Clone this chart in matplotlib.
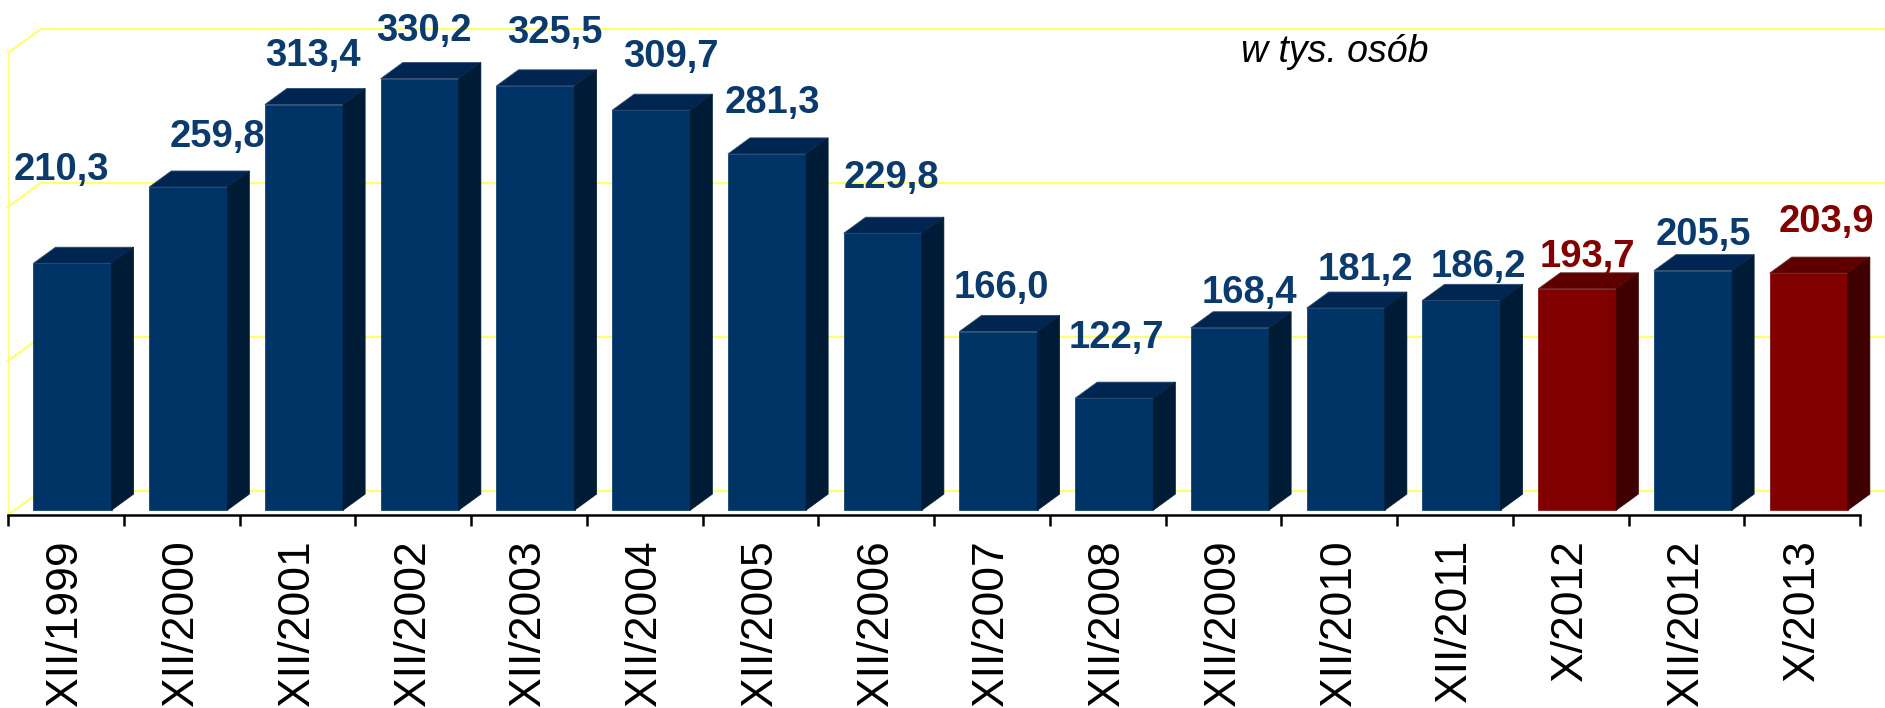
import matplotlib
matplotlib.use("Agg")
import matplotlib.pyplot as plt
import numpy as np
from matplotlib.patches import Polygon

# data
categories = ["XII/1999", "XII/2000", "XII/2001", "XII/2002", "XII/2003", "XII/2004",
              "XII/2005", "XII/2006", "XII/2007", "XII/2008", "XII/2009", "XII/2010",
              "XII/2011", "X/2012", "XII/2012", "X/2013"]
values = [210.3, 259.8, 313.4, 330.2, 325.5, 309.7, 281.3, 229.8,
          166.0, 122.7, 168.4, 181.2, 186.2, 193.7, 205.5, 203.9]
highlight = [False] * 13 + [True, False, True]   # red bars (X months)
unit_label = "w tys. osób"

# axis settings
Y_MIN, Y_MAX, Y_STEP = 50, 350, 100

# look of the fake 3d
DEPTH_X, DEPTH_Y = 0.285, 15.6      # wall depth in (category, value) units
F0, F1 = 0.2, 0.87                  # bar front / back as a fraction of the depth
BAR_W = 0.675
blue = ("#003366", "#002550", "#001b35")
red = ("#800000", "#5e0000", "#3e0000")
label_blue = "#0b3a6c"
label_red = "#830000"
grid_col = "#ffff70"

# label nudges in pixels (dx from bar centre, dy above bar top)
nudge = [(-11, 83), (29, 40), (9, 39), (4, 38), (19, 43), (20, 43), (5, 41), (9, 45),
         (3, 34), (2, 50), (19, 25), (20, 28), (17, 23), (10, 22), (10, 26), (18, 41)]

plt.rcParams['font.family'] = ['Liberation Sans', 'DejaVu Sans']

W, H = 1885, 708
fig = plt.figure(figsize=(W / 100, H / 100), dpi=100)
ax_left, ax_right, ax_bottom = 8, 1860, 515
ax = fig.add_axes([ax_left / W, (H - ax_bottom) / H, (ax_right - ax_left) / W, ax_bottom / H])
n = len(values)
px_per_unit = 1.54
ax.set_xlim(0, n)
ax.set_ylim(Y_MIN, Y_MIN + ax_bottom / px_per_unit)

# walls / gridlines
x_edge = (W - ax_left) / ((ax_right - ax_left) / n)
for g in np.arange(Y_MIN, Y_MAX + 1, Y_STEP):
    ax.plot([0, DEPTH_X], [g, g + DEPTH_Y], color=grid_col, lw=1.6, zorder=1, clip_on=False)
    ax.plot([DEPTH_X, x_edge], [g + DEPTH_Y, g + DEPTH_Y], color=grid_col, lw=1.6,
            zorder=1, clip_on=False)
ax.plot([0, 0], [Y_MIN, Y_MAX], color=grid_col, lw=1.6, zorder=1)

# bars
xs = np.arange(n) + 0.5 + F0 * DEPTH_X
base = Y_MIN + F0 * DEPTH_Y
vals = np.array(values)
front_cols = [red[0] if h else blue[0] for h in highlight]
ax.bar(xs, vals - Y_MIN, bottom=base, width=BAR_W, color=front_cols,
       edgecolor=front_cols, linewidth=0.5, zorder=3)
dx, dy = (F1 - F0) * DEPTH_X, (F1 - F0) * DEPTH_Y
for x, v, h in zip(xs, vals, highlight):
    cols = red if h else blue
    top = v + F0 * DEPTH_Y
    l, r = x - BAR_W / 2, x + BAR_W / 2
    ax.add_patch(Polygon([(l, top), (r, top), (r + dx, top + dy), (l + dx, top + dy)],
                         closed=True, facecolor=cols[1], edgecolor="#2c4a6e" if not h else "#6e2c2c",
                         lw=0.6, zorder=3, clip_on=False))
    ax.add_patch(Polygon([(r, base), (r + dx, base + dy), (r + dx, top + dy), (r, top)],
                         closed=True, facecolor=cols[2], edgecolor=cols[2], lw=0.5,
                         zorder=3, clip_on=False))

# value labels
for x, v, h, (ndx, ndy) in zip(xs, vals, highlight, nudge):
    txt = f"{v:.1f}".replace(".", ",")
    ax.annotate(txt, xy=(x, v + F0 * DEPTH_Y), xytext=(ndx, ndy), textcoords="offset pixels",
                ha="center", va="baseline", fontsize=27.5, fontweight="bold",
                color=label_red if h else label_blue, zorder=5, annotation_clip=False)

# axis
for s in ["left", "right", "top"]:
    ax.spines[s].set_visible(False)
ax.spines["bottom"].set_linewidth(1.8)
ax.spines["bottom"].set_zorder(4)
ax.set_yticks([])
ax.set_xticks(np.arange(n + 1))
ax.set_xticklabels([])
ax.set_xticks(np.arange(n) + 0.5, minor=True)
ax.set_xticklabels(categories, minor=True, rotation=90, fontsize=32)
ax.tick_params(axis="x", which="major", length=8, width=1.8, direction="out")
ax.tick_params(axis="x", which="minor", length=0, pad=18)
ax.patch.set_alpha(0)

fig.text(1241 / W, 1 - 62 / H, unit_label, fontsize=27, style="italic",
         va="baseline", ha="left")

fig.savefig("out.png", dpi=100, facecolor="white")
